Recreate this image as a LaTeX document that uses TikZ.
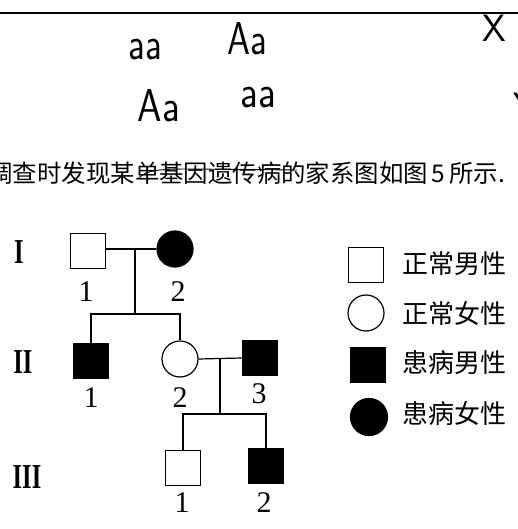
\documentclass[tikz,border=0pt]{standalone}
\usepackage{fontspec}
\newfontfamily\cjk{Noto Sans CJK SC}
\setmainfont{Liberation Serif}
\begin{document}
\begin{tikzpicture}[x=1pt,y=-1pt,
  line width=1.2pt,
  male/.style={draw,rectangle,minimum size=35pt,inner sep=0pt},
  female/.style={draw,circle,minimum size=36pt,inner sep=0pt},
  sick/.style={fill=black},
  num/.style={font=\fontsize{30}{30}\selectfont},
  gen/.style={font=\bfseries\fontsize{35}{35}\selectfont},
  legtext/.style={anchor=west,font=\cjk\fontsize{26}{26}\selectfont},
  hand/.style={anchor=base,inner sep=0pt,font=\sffamily\fontsize{46}{46}\selectfont}]
\useasboundingbox (0,0) rectangle (518,529);
\clip (0,0) rectangle (518,529);
% top rule
\draw[line width=2.4pt] (0,13) -- (518,13);
% handwritten genotypes
\node[hand] (h1) at (145,60) {\scalebox{0.8}[1]{aa}};
\node[hand] (h2) at (247,55) {\scalebox{0.8}[1]{Aa}};
\node[hand] (h3) at (159,122) {\scalebox{0.85}[1]{Aa}};
\node[hand] (h4) at (258,108) {\scalebox{0.85}[1]{aa}};
\node[hand,font=\sffamily\fontsize{38}{38}\selectfont] (h5) at (494,42) {X};
\node[hand,font=\sffamily\fontsize{38}{38}\selectfont] (h6) at (525,120) {Y};
% question sentence
\node[anchor=west,inner sep=0pt,font=\cjk\fontsize{24.4}{24.4}\selectfont] (q) at (-12,173) {调查时发现某单基因遗传病的家系图如图\,5\,所示.};
\draw[line width=0.9pt] (139,178) .. controls (146,170) and (160,169) .. (190,169) -- (297,170);
% generation labels
\node[gen] (g1) at (19,252) {\scalebox{0.7}[1]{I}};
\node[gen] (g2) at (23,362) {\scalebox{0.7}[1]{II}};
\node[gen] (g3) at (27,477) {\scalebox{0.7}[1]{III}};
% generation I
\node[male] (i1) at (88,251) {};
\node[female,sick] (i2) at (175,249) {};
\node[num] (l11) at (86,292) {1};
\node[num] (l12) at (178,292) {2};
% generation II
\node[male,sick] (ii1) at (91,361) {};
\node[female] (ii2) at (180,359) {};
\node[male,sick] (ii3) at (260,358) {};
\node[num] (l21) at (91,398) {1};
\node[num] (l22) at (180,398) {2};
\node[num] (l23) at (259,394) {3};
% generation III
\node[male] (iii1) at (183,468) {};
\node[male,sick] (iii2) at (266,466) {};
\node[num] (l31) at (182,503) {1};
\node[num] (l32) at (264,503) {2};
% connectors
\coordinate (m1) at (135,249);
\coordinate (s1) at (135,314);
\coordinate (s1a) at (91,314);
\coordinate (s1b) at (179,314);
\draw (i1.east |- m1) -- (i2.west);
\draw (m1) -- (s1);
\draw (ii1.north) -- (ii1.north |- s1a) -- (ii2.north |- s1b) -- (ii2.north);
\coordinate (m2) at (220,358);
\coordinate (s2) at (220,414);
\draw (ii2.east) -- (ii3.west);
\draw (m2) -- (s2);
\draw (iii1.north) -- (iii1.north |- s2) -- (iii2.north |- s2) -- (iii2.north);
% legend
\node[male] (k1) at (366,265) {};
\node[female] (k2) at (366,313) {};
\node[male,sick] (k3) at (368,365) {};
\node[female,sick,minimum size=37pt] (k4) at (369,417) {};
\node[legtext] (t1) at (399,264) {正常男性};
\node[legtext] (t2) at (399,313) {正常女性};
\node[legtext] (t3) at (399,363) {患病男性};
\node[legtext] (t4) at (399,413) {患病女性};
\end{tikzpicture}
\end{document}
